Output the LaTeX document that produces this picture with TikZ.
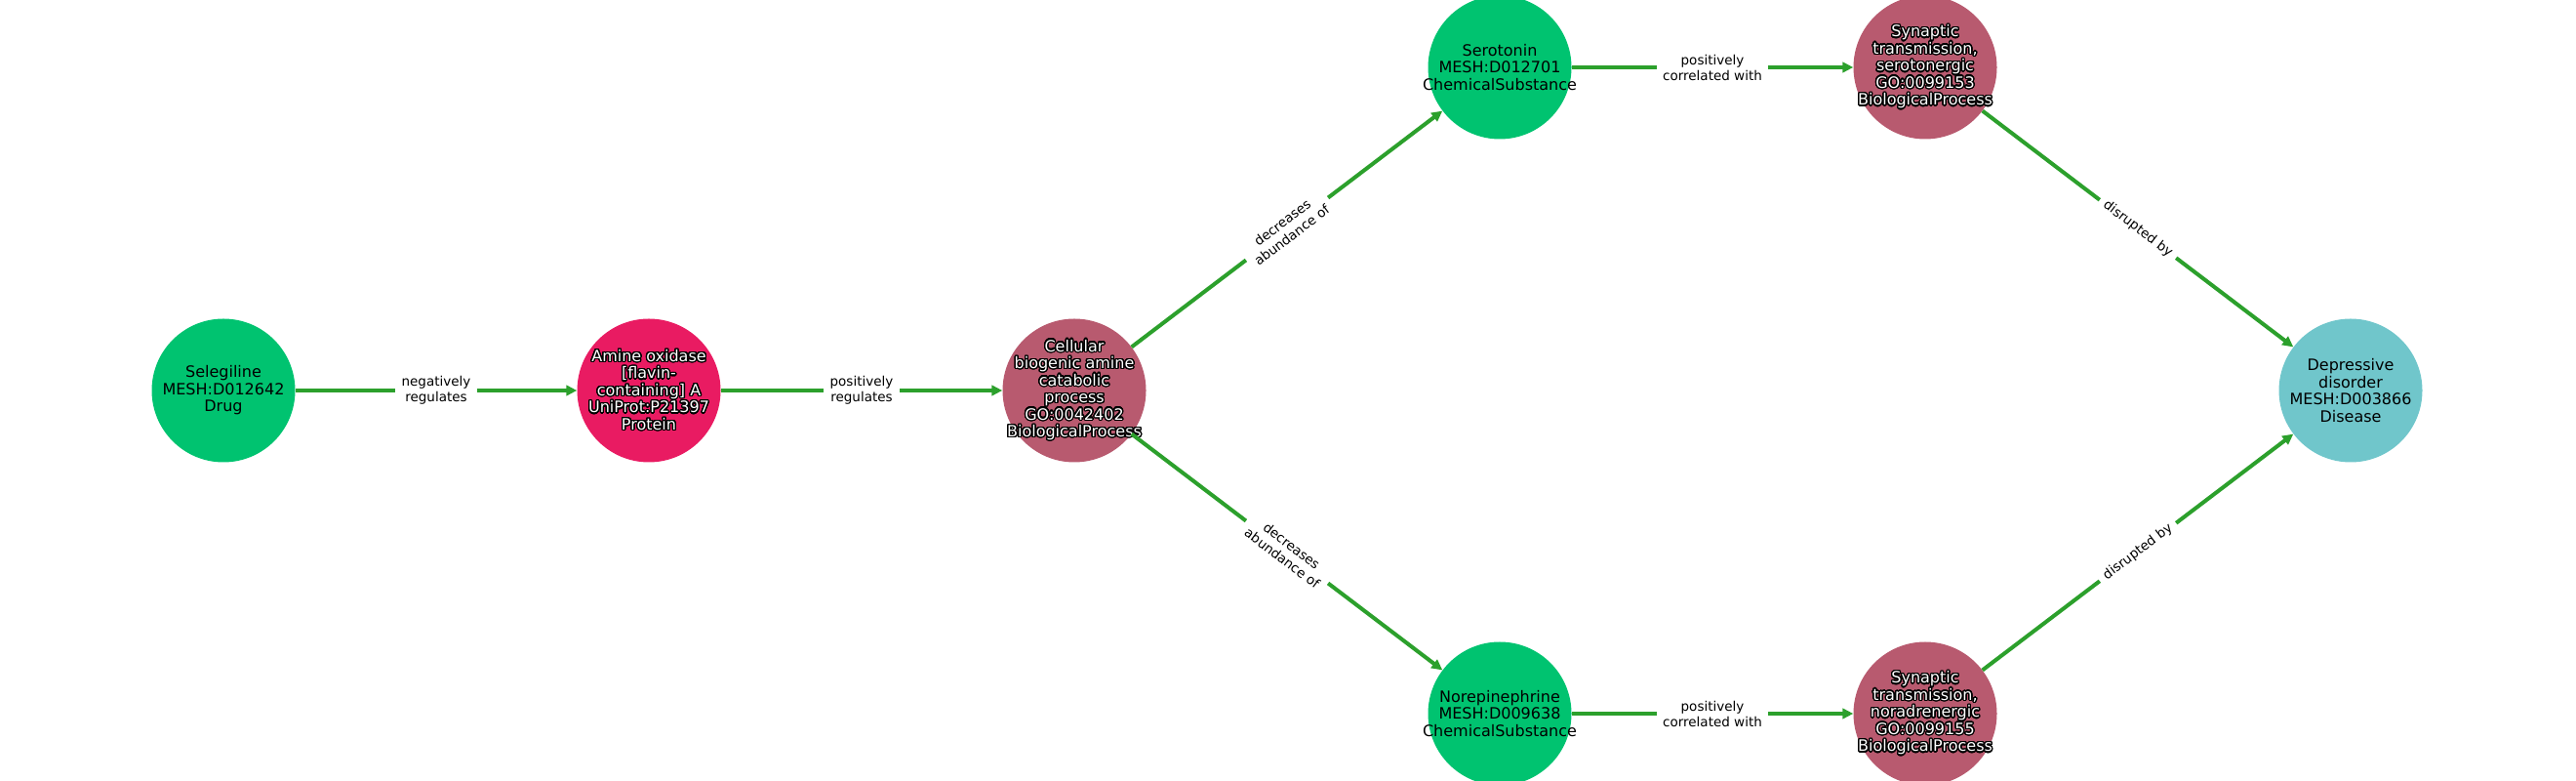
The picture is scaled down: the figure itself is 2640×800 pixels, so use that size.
\documentclass[tikz,border=0pt]{standalone}
\usepackage{fontspec}
\setmainfont{DejaVu Sans}
\usepackage[copies]{contour}
\contourlength{1.3pt}
\contournumber{24}
\usetikzlibrary{arrows.meta}
\definecolor{cgreen}{RGB}{0,195,112}
\definecolor{cpink}{RGB}{233,27,98}
\definecolor{cmauve}{RGB}{184,90,111}
\definecolor{cteal}{RGB}{112,198,203}
\definecolor{egreen}{RGB}{44,160,44}
\newcommand{\outl}[1]{\contour{black}{#1}}
\begin{document}
\begin{tikzpicture}[x=1pt,y=1pt,
  ent/.style={circle, minimum size=147pt, inner sep=0pt, draw=none},
  etxt/.style={align=center, inner sep=0pt, font=\fontsize{16}{17.5}\selectfont},
  wtxt/.style={etxt, text=white},
  edge/.style={draw=egreen, line width=4pt, -{Triangle[length=11pt,width=10.5pt]}},
  elabel/.style={fill=white, align=center, font=\fontsize{13.5}{16}\selectfont,
    inner xsep=6.5pt, inner ysep=2pt, sloped, midway, text=black}]
\useasboundingbox (0,0) rectangle (2640,800);
\node[ent, fill=cgreen] (sel) at (229,400) {};
\node[ent, fill=cpink] (amo) at (665,400) {};
\node[ent, fill=cmauve] (cel) at (1101,400) {};
\node[ent, fill=cgreen] (ser) at (1537,731) {};
\node[ent, fill=cgreen] (nor) at (1537,69) {};
\node[ent, fill=cmauve] (sts) at (1973,731) {};
\node[ent, fill=cmauve] (stn) at (1973,69) {};
\node[ent, fill=cteal] (dep) at (2409,400) {};
\node[etxt] (selT) at (sel.center) {Selegiline\\MESH:D012642\\Drug};
\node[wtxt] (amoT) at (amo.center) {\outl{Amine oxidase}\\\outl{[flavin-}\\\outl{containing] A}\\\outl{UniProt:P21397}\\\outl{Protein}};
\node[wtxt] (celT) at (cel.center) {\outl{Cellular}\\\outl{biogenic amine}\\\outl{catabolic}\\\outl{process}\\\outl{GO:0042402}\\\outl{BiologicalProcess}};
\node[etxt] (serT) at (ser.center) {Serotonin\\MESH:D012701\\ChemicalSubstance};
\node[etxt] (norT) at (nor.center) {Norepinephrine\\MESH:D009638\\ChemicalSubstance};
\node[wtxt] (stsT) at (sts.center) {\outl{Synaptic}\\\outl{transmission,}\\\outl{serotonergic}\\\outl{GO:0099153}\\\outl{BiologicalProcess}};
\node[wtxt] (stnT) at (stn.center) {\outl{Synaptic}\\\outl{transmission,}\\\outl{noradrenergic}\\\outl{GO:0099155}\\\outl{BiologicalProcess}};
\node[etxt] (depT) at (dep.center) {Depressive\\disorder\\MESH:D003866\\Disease};
\draw[edge] (sel) -- node[elabel]{negatively\\regulates} (amo);
\draw[edge] (amo) -- node[elabel]{positively\\regulates} (cel);
\draw[edge] (cel) -- node[elabel]{decreases\\abundance of} (ser);
\draw[edge] (cel) -- node[elabel]{decreases\\abundance of} (nor);
\draw[edge] (ser) -- node[elabel]{positively\\correlated with} (sts);
\draw[edge] (nor) -- node[elabel]{positively\\correlated with} (stn);
\draw[edge] (sts) -- node[elabel]{disrupted by} (dep);
\draw[edge] (stn) -- node[elabel]{disrupted by} (dep);
\end{tikzpicture}
\end{document}
